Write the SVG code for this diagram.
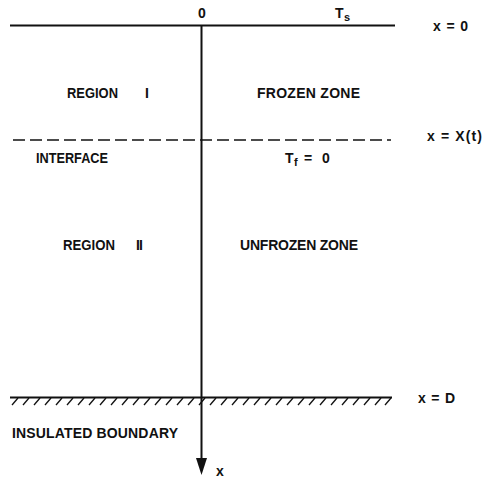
<svg xmlns="http://www.w3.org/2000/svg" width="483" height="478" viewBox="0 0 483 478">
<defs>
<style>
text{font-family:"Liberation Sans",Arial,sans-serif;font-weight:bold;font-size:14px;fill:#111}
.sub{font-size:11px}
.ln{stroke:#111;stroke-width:2;fill:none}
.dash{stroke:#111;stroke-width:1.5;stroke-dasharray:12 5;fill:none}
.hatch{stroke:#111;stroke-width:1.3}
</style>
</defs>
<rect width="483" height="478" fill="#fff"/>
<g id="connectors">
<line class="ln" x1="10" y1="25.5" x2="395" y2="25.5"/>
<line class="dash" x1="13" y1="140" x2="391" y2="140"/>
<line class="ln" x1="10" y1="397.5" x2="392" y2="397.5"/>
<g id="hatching" class="hatch">
<line x1="12" y1="405" x2="18" y2="398"/><line x1="23" y1="405" x2="29" y2="398"/><line x1="34" y1="405" x2="40" y2="398"/><line x1="45" y1="405" x2="51" y2="398"/><line x1="56" y1="405" x2="62" y2="398"/><line x1="67" y1="405" x2="73" y2="398"/><line x1="78" y1="405" x2="84" y2="398"/><line x1="89" y1="405" x2="95" y2="398"/><line x1="100" y1="405" x2="106" y2="398"/><line x1="111" y1="405" x2="117" y2="398"/><line x1="122" y1="405" x2="128" y2="398"/><line x1="133" y1="405" x2="139" y2="398"/><line x1="144" y1="405" x2="150" y2="398"/><line x1="155" y1="405" x2="161" y2="398"/><line x1="166" y1="405" x2="172" y2="398"/><line x1="177" y1="405" x2="183" y2="398"/><line x1="188" y1="405" x2="194" y2="398"/><line x1="199" y1="405" x2="205" y2="398"/><line x1="210" y1="405" x2="216" y2="398"/><line x1="221" y1="405" x2="227" y2="398"/><line x1="232" y1="405" x2="238" y2="398"/><line x1="243" y1="405" x2="249" y2="398"/><line x1="254" y1="405" x2="260" y2="398"/><line x1="265" y1="405" x2="271" y2="398"/><line x1="276" y1="405" x2="282" y2="398"/><line x1="287" y1="405" x2="293" y2="398"/><line x1="298" y1="405" x2="304" y2="398"/><line x1="309" y1="405" x2="315" y2="398"/><line x1="320" y1="405" x2="326" y2="398"/><line x1="331" y1="405" x2="337" y2="398"/><line x1="342" y1="405" x2="348" y2="398"/><line x1="353" y1="405" x2="359" y2="398"/><line x1="364" y1="405" x2="370" y2="398"/><line x1="375" y1="405" x2="381" y2="398"/><line x1="385" y1="405" x2="391" y2="398"/>
</g>
<line class="ln" x1="201.5" y1="25" x2="201.5" y2="460"/>
<polygon points="196,458 207,458 201.5,475" fill="#111"/>
</g>
<g id="labels">
<text x="202" y="18" text-anchor="middle">0</text>
<text x="335" y="18">T</text>
<text class="sub" x="344" y="21">s</text>
<text x="433" y="31" textLength="35" lengthAdjust="spacing">x = 0</text>
<text x="67" y="98" textLength="51" lengthAdjust="spacingAndGlyphs">REGION</text>
<text x="145" y="98">I</text>
<text x="257" y="98" textLength="103" lengthAdjust="spacing">FROZEN ZONE</text>
<text x="427" y="141" textLength="55" lengthAdjust="spacing">x = X(t)</text>
<text x="36" y="163" textLength="72" lengthAdjust="spacingAndGlyphs">INTERFACE</text>
<text x="285" y="163">T</text>
<text class="sub" x="294" y="166">f</text>
<text x="304" y="163">=</text>
<text x="322" y="163">0</text>
<text x="63" y="250" textLength="52" lengthAdjust="spacingAndGlyphs">REGION</text>
<text x="136" y="250" textLength="7" lengthAdjust="spacing">II</text>
<text x="240" y="250" textLength="118" lengthAdjust="spacing">UNFROZEN ZONE</text>
<text x="418" y="403" textLength="37" lengthAdjust="spacing">x =  D</text>
<text x="12" y="438" textLength="166" lengthAdjust="spacing">INSULATED BOUNDARY</text>
<text x="216" y="476">x</text>
</g>
</svg>
